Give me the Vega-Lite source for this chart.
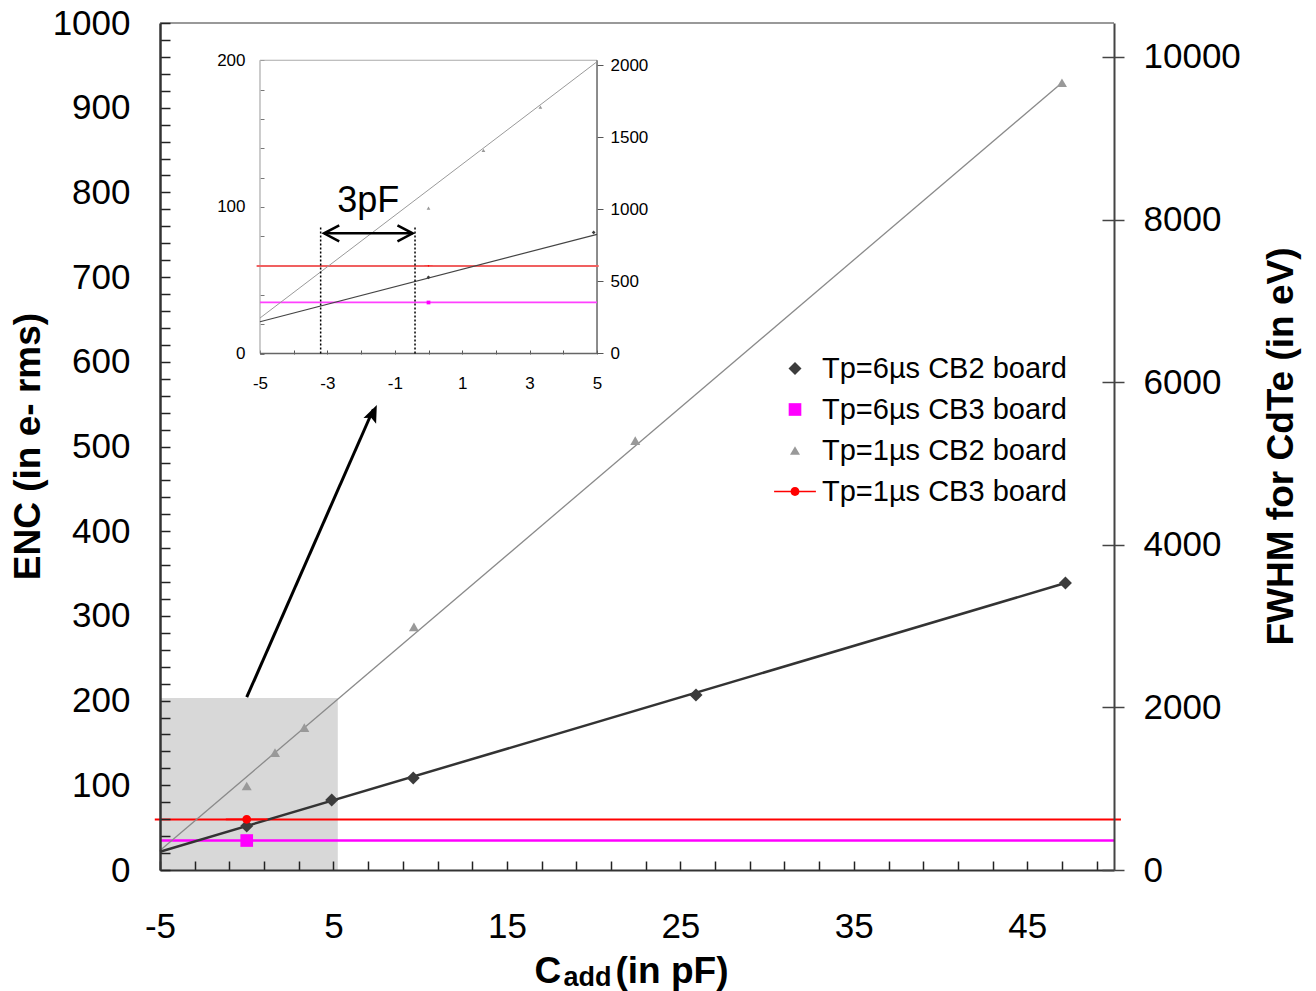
{
  "$schema": "https://vega.github.io/schema/vega-lite/v6.json",
  "width": 954,
  "height": 847,
  "autosize": {"type": "none"},
  "padding": {"left": 160, "top": 23, "right": 202, "bottom": 121},
  "background": "white",
  "config": {
    "view": {"stroke": null},
    "font": "Liberation Sans",
    "axis": {"grid": false, "labelFlush": false, "labelOverlap": false, "labelFont": "Liberation Sans", "titleFont": "Liberation Sans", "labelColor": "#000", "titleColor": "#000"}
  },
  "datasets": {
    "pts": [
      {"series": "Tp=6µs CB2 board", "x": 0, "y": 52},
      {"series": "Tp=6µs CB2 board", "x": 4.9, "y": 82.6},
      {"series": "Tp=6µs CB2 board", "x": 9.6, "y": 108.6},
      {"series": "Tp=6µs CB2 board", "x": 25.9, "y": 206.6},
      {"series": "Tp=6µs CB2 board", "x": 47.2, "y": 338.8},
      {"series": "Tp=6µs CB3 board", "x": 0, "y": 34.8},
      {"series": "Tp=1µs CB2 board", "x": 0, "y": 99.2},
      {"series": "Tp=1µs CB2 board", "x": 1.63, "y": 138.5},
      {"series": "Tp=1µs CB2 board", "x": 3.32, "y": 168},
      {"series": "Tp=1µs CB2 board", "x": 9.64, "y": 287},
      {"series": "Tp=1µs CB2 board", "x": 22.4, "y": 507},
      {"series": "Tp=1µs CB2 board", "x": 47.0, "y": 929.5},
      {"series": "Tp=1µs CB3 board", "x": 0, "y": 59.8}
    ],
    "fit1": [{"x": -5, "y": 23}, {"x": 47.0, "y": 929.5}],
    "fit6": [{"x": -5, "y": 21.6}, {"x": 47.2, "y": 338.8}],
    "hlineRed": [{"x": -5.3, "x2": 50.4, "y": 59.6}],
    "hlineMagenta": [{"x": -5, "x2": 50, "y": 34.8}],
    "shade": [{"x": -5, "x2": 5.25, "y": 0, "y2": 203}],
    "topBorder": [{"x": -5, "x2": 50, "y": 1000}],
    "arrow": [{"x": 0, "y": 204}, {"x": 7.3, "y": 544}],
    "arrowTip": [{"x": 7.5, "y": 549}],
    "insetFit1": [{"x": -5, "y": 24.2}, {"x": 5, "y": 199}],
    "insetFit6": [{"x": -5, "y": 21.7}, {"x": 5, "y": 81.3}],
    "insetRed": [{"x": -5.1, "x2": 5.05, "y": 59.7}],
    "insetMagenta": [{"x": -5, "x2": 5, "y": 34.9}],
    "frameDark": [{"x": -5, "x2": 5, "y": 0, "y2": 0}, {"x": 5, "x2": 5, "y": 0, "y2": 200}],
    "frameLight": [{"x": -5, "x2": -5, "y": 0, "y2": 200}, {"x": -5, "x2": 5, "y": 200, "y2": 200}],
    "dotted": [{"x": -3.2, "y": 0, "y2": 87}, {"x": -0.4, "y": 0, "y2": 87}],
    "span": [{"x": -3.1, "x2": -0.47, "y": 82}],
    "spanLeft": [{"x": -3.1, "y": 82}],
    "spanRight": [{"x": -0.47, "y": 82}],
    "label3pF": [{"x": -1.79, "y": 96.7, "label": "3pF"}]
  },
  "resolve": {"scale": {"x": "independent", "y": "independent"}},
  "layer": [
    {
      "encoding": {
        "x": {
          "field": "x", "type": "quantitative",
          "scale": {"domain": [-5, 50], "nice": false, "zero": false},
          "axis": {
            "orient": "bottom", "zindex": 1,
            "values": [-5, -3, -1, 1, 3, 5, 7, 9, 11, 13, 15, 17, 19, 21, 23, 25, 27, 29, 31, 33, 35, 37, 39, 41, 43, 45, 47, 49],
            "labelExpr": "(datum.value + 5) % 10 === 0 ? toString(datum.value) : ''",
            "tickSize": -9, "tickWidth": 1.5, "tickColor": "#222",
            "domainColor": "#333", "domainWidth": 2,
            "labelFontSize": 35, "labelPadding": 48,
            "title": "C", "titleFontSize": 37, "titleFontWeight": "bold",
            "titleX": 374, "titleY": 112, "titleBaseline": "alphabetic", "titleAlign": "left"
          }
        },
        "y": {
          "field": "y", "type": "quantitative",
          "scale": {"domain": [0, 1000], "nice": false, "zero": false},
          "axis": {
            "orient": "left", "zindex": 1,
            "values": [0, 20, 40, 60, 80, 100, 120, 140, 160, 180, 200, 220, 240, 260, 280, 300, 320, 340, 360, 380, 400, 420, 440, 460, 480, 500, 520, 540, 560, 580, 600, 620, 640, 660, 680, 700, 720, 740, 760, 780, 800, 820, 840, 860, 880, 900, 920, 940, 960, 980, 1000],
            "labelExpr": "datum.value % 100 === 0 ? toString(datum.value) : ''",
            "tickSize": -10, "tickWidth": 1.5, "tickColor": "#222",
            "domainColor": "#333", "domainWidth": 2.5,
            "labelFontSize": 35, "labelPadding": 40,
            "title": "ENC (in e- rms)", "titleFontSize": 37, "titleFontWeight": "bold",
            "titleAngle": -90, "titleX": -132, "titleY": 423, "titleAlign": "center", "titleBaseline": "middle"
          }
        }
      },
      "layer": [
        {"data": {"name": "shade"}, "mark": {"type": "rect", "fill": "#d8d8d8"}, "encoding": {"x2": {"field": "x2"}, "y2": {"field": "y2"}}},
        {"data": {"name": "topBorder"}, "mark": {"type": "rule", "color": "#999", "strokeWidth": 2}, "encoding": {"x2": {"field": "x2"}}},
        {"data": {"name": "hlineRed"}, "mark": {"type": "rule", "strokeWidth": 2, "color": "#ff0000"}, "encoding": {"x2": {"field": "x2"}}},
        {"data": {"name": "hlineMagenta"}, "mark": {"type": "rule", "strokeWidth": 2.5, "color": "#ff00ff"}, "encoding": {"x2": {"field": "x2"}}},
        {"data": {"name": "fit1"}, "mark": {"type": "line", "color": "#8a8a8a", "strokeWidth": 1.3}, "encoding": {}},
        {"data": {"name": "fit6"}, "mark": {"type": "line", "color": "#333", "strokeWidth": 2.5}, "encoding": {}},
        {"data": {"name": "arrow"}, "mark": {"type": "line", "color": "#000", "strokeWidth": 3}, "encoding": {}},
        {"data": {"name": "arrowTip"}, "mark": {"type": "point", "shape": "M0,0L-0.8,2L0,1.6L0.8,2Z", "size": 300, "angle": 24, "filled": true, "color": "#000", "opacity": 1, "strokeWidth": 0}, "encoding": {}},
        {
          "data": {"name": "pts"},
          "mark": {"type": "point", "filled": true, "opacity": 1, "strokeWidth": 0},
          "encoding": {
            "color": {
              "field": "series", "type": "nominal",
              "scale": {"domain": ["Tp=6µs CB2 board", "Tp=6µs CB3 board", "Tp=1µs CB2 board", "Tp=1µs CB3 board"], "range": ["#3c3c3c", "#ff00ff", "#999999", "#ff0000"]},
              "legend": {"title": null, "orient": "none", "legendX": 620.5, "legendY": 331, "labelFontSize": 29, "labelFont": "Liberation Sans", "labelColor": "#000", "labelOffset": 12.5, "labelLimit": 500, "padding": 0, "rowPadding": 11, "symbolStrokeWidth": 0}
            },
            "shape": {
              "field": "series", "type": "nominal",
              "scale": {"domain": ["Tp=6µs CB2 board", "Tp=6µs CB3 board", "Tp=1µs CB2 board", "Tp=1µs CB3 board"], "range": ["diamond", "square", "triangle-up", "M-2.2,-0.09H2.2V0.09H-2.2Z M0.47,0A0.47,0.47,0,1,1,-0.47,0A0.47,0.47,0,1,1,0.47,0Z"]}
            },
            "size": {
              "field": "series", "type": "nominal",
              "scale": {"type": "ordinal", "domain": ["Tp=6µs CB2 board", "Tp=6µs CB3 board", "Tp=1µs CB2 board", "Tp=1µs CB3 board"], "range": [170, 160, 100, 361]}
            }
          }
        }
      ]
    },
    {
      "data": {"values": [{"f": 0}]},
      "mark": {"type": "point", "opacity": 0},
      "encoding": {
        "x": {
          "field": "f", "type": "quantitative",
          "scale": {"domain": [-5, 50], "nice": false, "zero": false},
          "axis": {
            "orient": "bottom", "domain": false, "ticks": false, "labels": false,
            "title": "add", "titleFontSize": 27, "titleFontWeight": "bold",
            "titleX": 403, "titleY": 115, "titleBaseline": "alphabetic", "titleAlign": "left"
          }
        },
        "y": {
          "field": "f", "type": "quantitative",
          "scale": {"domain": [0, 10418], "nice": false, "zero": false},
          "axis": {
            "orient": "right", "zindex": 1,
            "values": [0, 2000, 4000, 6000, 8000, 10000], "format": "d",
            "tickSize": 10, "tickWidth": 1.5, "tickColor": "#444",
            "domainColor": "#444", "domainWidth": 2,
            "labelFontSize": 35, "labelPadding": 19,
            "title": "FWHM for CdTe (in eV)", "titleFontSize": 37, "titleFontWeight": "bold",
            "titleAngle": -90, "titleX": 167, "titleY": 423, "titleAlign": "center", "titleBaseline": "middle"
          }
        }
      }
    },
    {
      "data": {"values": [{"f": 0}]},
      "mark": {"type": "point", "opacity": 0},
      "encoding": {
        "x": {
          "field": "f", "type": "quantitative",
          "scale": {"domain": [-5, 50], "nice": false, "zero": false},
          "axis": {
            "orient": "bottom", "domain": false, "ticks": false, "labels": false,
            "title": "(in pF)", "titleFontSize": 37, "titleFontWeight": "bold",
            "titleX": 455, "titleY": 112, "titleBaseline": "alphabetic", "titleAlign": "left"
          }
        },
        "y": {
          "field": "f", "type": "quantitative",
          "scale": {"domain": [0, 10418], "nice": false, "zero": false},
          "axis": {
            "orient": "right", "zindex": 1,
            "values": [0, 2000, 4000, 6000, 8000, 10000],
            "tickSize": -12, "tickWidth": 1.5, "tickColor": "#444",
            "domain": false, "labels": false, "title": null
          }
        }
      }
    },
    {
      "encoding": {
        "x": {
          "field": "x", "type": "quantitative",
          "scale": {"domain": [-7.967, 20.34], "nice": false, "zero": false},
          "axis": {
            "orient": "bottom", "offset": -516,
            "values": [-5, -4, -3, -2, -1, 0, 1, 2, 3, 4, 5],
            "labelExpr": "abs(datum.value) % 2 === 1 ? toString(datum.value) : ''",
            "tickSize": -4, "tickColor": "#555", "domain": false,
            "labelFontSize": 17, "labelPadding": 25, "title": null
          }
        },
        "y": {
          "field": "y", "type": "quantitative",
          "scale": {"domain": [-352.2, 225.4], "nice": false, "zero": false},
          "axis": {
            "orient": "left", "offset": -100,
            "values": [0, 20, 40, 60, 80, 100, 120, 140, 160, 180, 200],
            "labelExpr": "datum.value % 100 === 0 ? toString(datum.value) : ''",
            "tickSize": -4, "tickColor": "#777", "domain": false,
            "labelFontSize": 17, "labelPadding": 19, "title": null
          }
        }
      },
      "layer": [
        {"data": {"name": "frameLight"}, "mark": {"type": "rule", "color": "#aaa", "strokeWidth": 1.2}, "encoding": {"x2": {"field": "x2"}, "y2": {"field": "y2"}}},
        {"data": {"name": "frameDark"}, "mark": {"type": "rule", "color": "#666", "strokeWidth": 1.5}, "encoding": {"x2": {"field": "x2"}, "y2": {"field": "y2"}}},
        {"data": {"name": "insetRed"}, "mark": {"type": "rule", "strokeWidth": 1.8, "color": "#f06060"}, "encoding": {"x2": {"field": "x2"}}},
        {"data": {"name": "insetMagenta"}, "mark": {"type": "rule", "strokeWidth": 1.8, "color": "#ff40ff"}, "encoding": {"x2": {"field": "x2"}}},
        {"data": {"name": "insetFit1"}, "mark": {"type": "line", "color": "#9a9a9a", "strokeWidth": 1}, "encoding": {}},
        {"data": {"name": "insetFit6"}, "mark": {"type": "line", "color": "#444", "strokeWidth": 1.2}, "encoding": {}},
        {
          "data": {"name": "pts"},
          "transform": [{"filter": "datum.x <= 5.1"}],
          "mark": {"type": "point", "filled": true, "opacity": 1, "strokeWidth": 0, "size": 14},
          "encoding": {
            "color": {"field": "series", "type": "nominal"},
            "shape": {"field": "series", "type": "nominal"}
          }
        },
        {"data": {"name": "dotted"}, "mark": {"type": "rule", "color": "#000", "strokeWidth": 1.5, "strokeDash": [2, 2]}, "encoding": {"y2": {"field": "y2"}}},
        {"data": {"name": "span"}, "mark": {"type": "rule", "color": "#000", "strokeWidth": 2.5}, "encoding": {"x2": {"field": "x2"}}},
        {"data": {"name": "spanLeft"}, "mark": {"type": "point", "shape": "M1.9,-1L0,0L1.9,1", "size": 256, "angle": 0, "filled": false, "color": "#000", "opacity": 1, "strokeWidth": 2.5}, "encoding": {}},
        {"data": {"name": "spanRight"}, "mark": {"type": "point", "shape": "M1.9,-1L0,0L1.9,1", "size": 256, "angle": 180, "filled": false, "color": "#000", "opacity": 1, "strokeWidth": 2.5}, "encoding": {}},
        {"data": {"name": "label3pF"}, "mark": {"type": "text", "fontSize": 36, "font": "Liberation Sans", "baseline": "alphabetic", "align": "center", "color": "#000"}, "encoding": {"text": {"field": "label"}}}
      ]
    },
    {
      "data": {"values": [{"f": 0}]},
      "mark": {"type": "point", "opacity": 0},
      "encoding": {
        "y": {
          "field": "f", "type": "quantitative",
          "scale": {"domain": [-3583, 2292.7], "nice": false, "zero": false},
          "axis": {
            "orient": "right", "offset": -517,
            "values": [0, 500, 1000, 1500, 2000], "format": "d",
            "tickSize": 6, "tickColor": "#555", "domain": false,
            "labelFontSize": 17, "labelPadding": 7, "title": null
          }
        }
      }
    }
  ]
}
